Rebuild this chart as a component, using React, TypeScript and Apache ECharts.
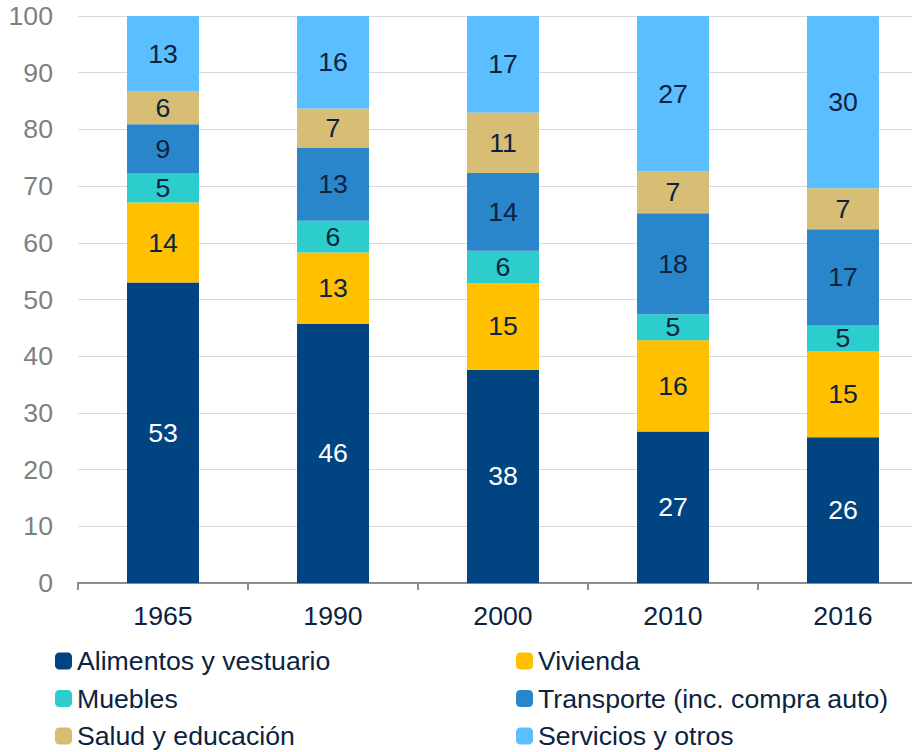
import React, { useEffect, useRef } from "react";
import * as echarts from "echarts";

const years = ["1965", "1990", "2000", "2010", "2016"];
const alimentos = [53.0, 45.7, 37.6, 26.7, 25.7];
const vivienda = [14.1, 12.6, 15.3, 16.1, 15.2];
const muebles = [5.2, 5.6, 5.7, 4.6, 4.6];
const transporte = [8.6, 12.9, 13.7, 17.8, 16.9];
const salud = [5.8, 6.9, 10.7, 7.4, 7.2];
const servicios = [13.3, 16.3, 17.0, 27.4, 30.4];

const seriesDefs = [
  { name: "Alimentos y vestuario", data: alimentos, color: "#004481", text: "#FFFFFF" },
  { name: "Vivienda", data: vivienda, color: "#FFC000", text: "#0C2340" },
  { name: "Muebles", data: muebles, color: "#2DCCCD", text: "#0C2340" },
  { name: "Transporte (inc. compra auto)", data: transporte, color: "#2A86CA", text: "#0C2340" },
  { name: "Salud y educación", data: salud, color: "#D8BE75", text: "#0C2340" },
  { name: "Servicios y otros", data: servicios, color: "#5BBEFF", text: "#0C2340" },
];

const FONT = "'Liberation Sans', Arial, Helvetica, sans-serif";
const FS = 26.67;

export default function App() {
  const ref = useRef<HTMLDivElement>(null);
  useEffect(() => {
    if (!ref.current) return;
    const chart = echarts.init(ref.current, null, { renderer: "svg" });
    const legendText = { fontSize: FS, color: "#0C2340", fontFamily: FONT, lineHeight: 28 };
    const legendBase = {
      orient: "vertical",
      top: 647,
      padding: 0,
      itemWidth: 17,
      itemHeight: 17,
      itemGap: 9.5,
      itemStyle: { borderRadius: 2 },
      icon: "roundRect",
      textStyle: legendText,
    };
    chart.setOption({
      animation: false,
      grid: { left: 78, top: 16, width: 850, height: 567, containLabel: false },
      legend: [
        { ...legendBase, left: 55, data: ["Alimentos y vestuario", "Muebles", "Salud y educación"] },
        { ...legendBase, left: 516, data: ["Vivienda", "Transporte (inc. compra auto)", "Servicios y otros"] },
      ],
      xAxis: {
        type: "category",
        data: years,
        axisLine: { lineStyle: { color: "#8C8C8C", width: 2 } },
        axisTick: { show: true, length: 7, lineStyle: { color: "#8C8C8C", width: 2 } },
        axisLabel: { fontSize: FS, color: "#0C2340", fontFamily: FONT, margin: 19 },
      },
      yAxis: {
        type: "value",
        min: 0,
        max: 100,
        interval: 10,
        axisLine: { show: false },
        axisTick: { show: false },
        axisLabel: { fontSize: FS, color: "#7F7F7F", fontFamily: FONT, margin: 25 },
        splitLine: { lineStyle: { color: "#D9D9D9", width: 1 } },
      },
      series: seriesDefs.map((s) => ({
        name: s.name,
        type: "bar",
        stack: "total",
        barWidth: 72,
        data: s.data,
        itemStyle: { color: s.color },
        label: {
          show: true,
          position: "inside",
          fontSize: FS,
          fontFamily: FONT,
          color: s.text,
          formatter: (p: any) => String(Math.round(p.value)),
        },
      })),
    });
    return () => chart.dispose();
  }, []);
  return (
    <div
      style={{ position: "fixed", left: 0, top: 0, width: 912, height: 752, overflow: "hidden", background: "#fff" }}
    >
      <div ref={ref} style={{ width: 940, height: 752 }} />
    </div>
  );
}
